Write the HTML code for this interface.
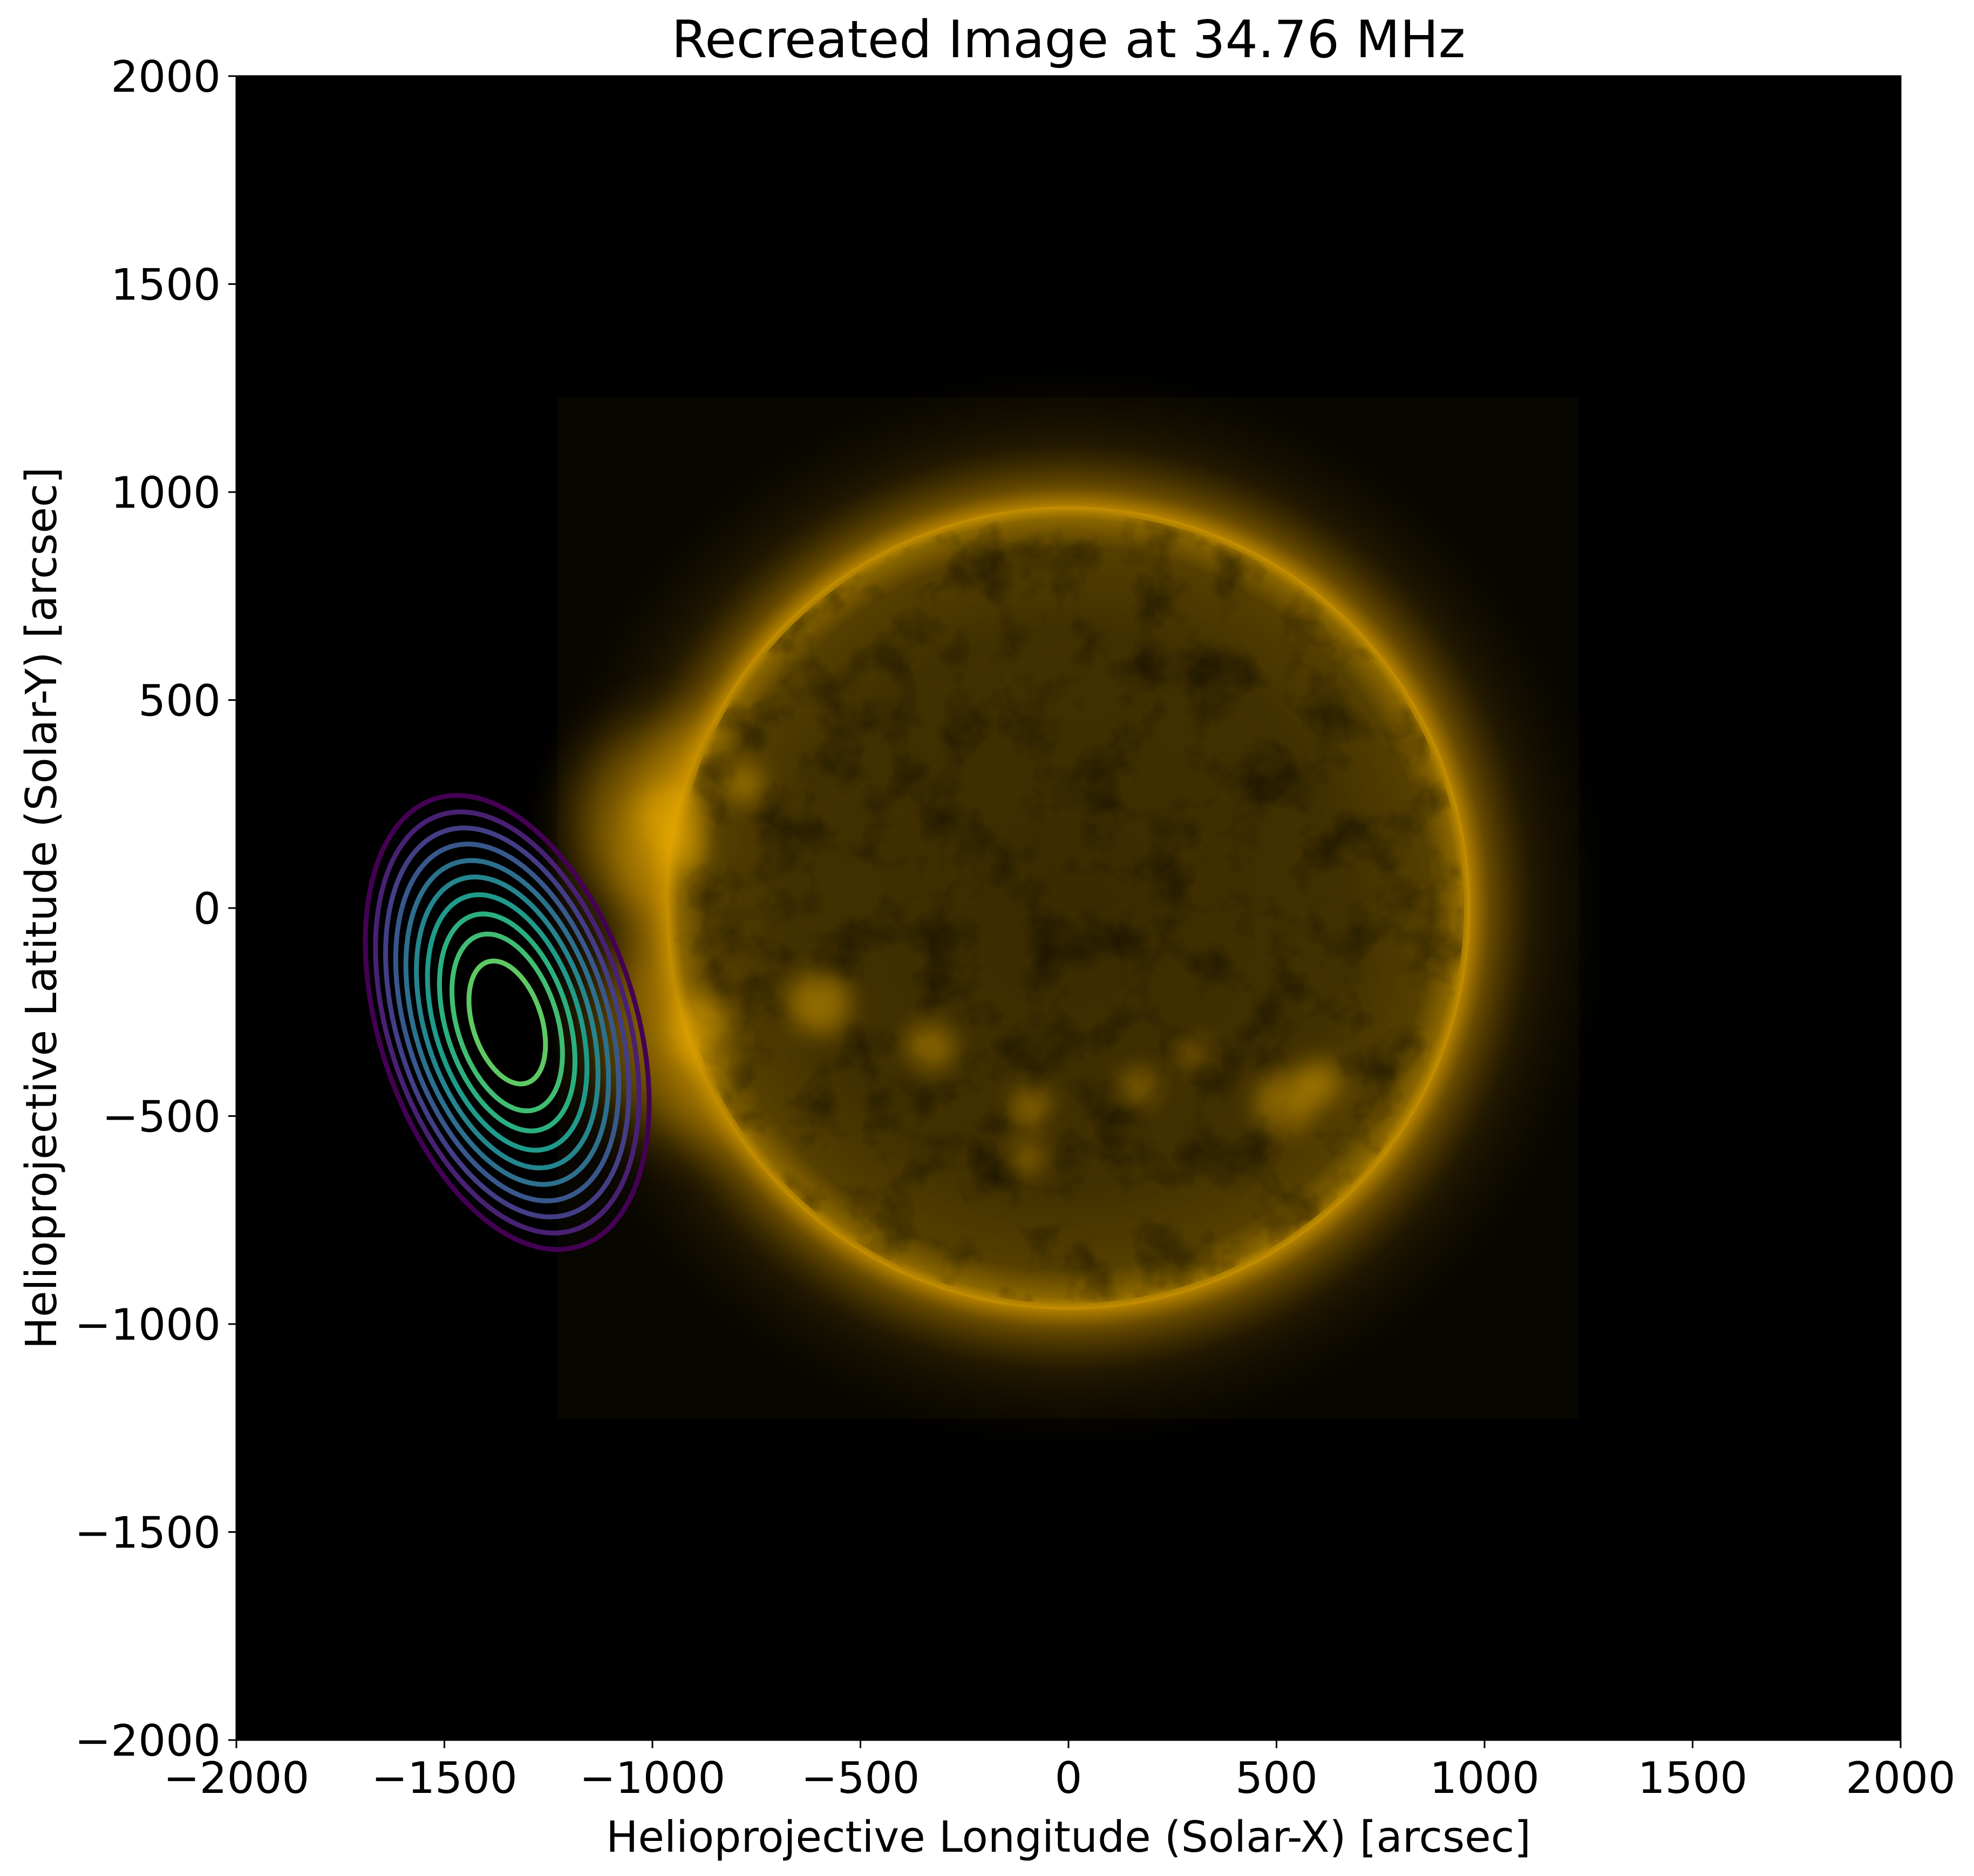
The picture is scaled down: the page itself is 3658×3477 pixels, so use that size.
<!DOCTYPE html>
<html><head><meta charset="utf-8"><style>
html,body{margin:0;padding:0;background:#fff;}
svg{display:block;font-family:"DejaVu Sans","Liberation Sans",sans-serif;}
</style></head><body>
<svg id="fig" width="3658" height="3477" viewBox="0 0 3658 3477" xmlns="http://www.w3.org/2000/svg">
<defs>
<clipPath id="plotClip"><rect x="438" y="141" width="3084" height="3084"/></clipPath>
<clipPath id="diskClip"><circle cx="1980" cy="1683" r="736"/></clipPath>
<radialGradient id="diskGrad" cx="0.5" cy="0.5" r="0.5">
<stop offset="0" stop-color="#3a2b00"/>
<stop offset="0.7" stop-color="#423100"/>
<stop offset="0.9" stop-color="#553f00"/>
<stop offset="0.97" stop-color="#8a6600"/>
<stop offset="1" stop-color="#c69000"/>
</radialGradient>
<radialGradient id="coronaGrad" cx="0.5" cy="0.5" r="0.5">
<stop offset="0.72" stop-color="#c89000" stop-opacity="0.95"/>
<stop offset="0.76" stop-color="#a87800" stop-opacity="0.6"/>
<stop offset="0.84" stop-color="#6a4c00" stop-opacity="0.25"/>
<stop offset="0.95" stop-color="#2a1e00" stop-opacity="0.08"/>
<stop offset="1" stop-color="#000" stop-opacity="0"/>
</radialGradient>
<filter id="blurBig" x="-50%" y="-50%" width="200%" height="200%"><feGaussianBlur stdDeviation="50"/></filter>
<filter id="blurSmall" x="-50%" y="-50%" width="200%" height="200%"><feGaussianBlur stdDeviation="22"/></filter>
<filter id="tex" x="0" y="0" width="100%" height="100%" filterUnits="userSpaceOnUse">
<feTurbulence type="fractalNoise" baseFrequency="0.01" numOctaves="4" seed="7"/>
<feColorMatrix type="matrix" values="0 0 0 0 0  0 0 0 0 0  0 0 0 0 0  0 0 0 -2.4 1.3"/>
</filter>
</defs>
<text x="1980" y="106" font-size="95" text-anchor="middle">Recreated Image at 34.76 MHz</text>
<g id="plot" clip-path="url(#plotClip)">
<rect x="438" y="141" width="3084" height="3084" fill="#000"/>
<g id="sunLayer"></g>
<g id="contourLayer"></g>
</g>
<g id="axes"></g>
<text x="1980" y="3432" font-size="79" text-anchor="middle">Helioprojective Longitude (Solar-X) [arcsec]</text>
<text transform="translate(104,1683) rotate(-90)" font-size="79" text-anchor="middle">Helioprojective Latitude (Solar-Y) [arcsec]</text>
</svg>
<script>
const xTicks = [-2000,-1500,-1000,-500,0,500,1000,1500,2000];
const yTicks = [-2000,-1500,-1000,-500,0,500,1000,1500,2000];
const xTickLabels = ["\u22122000","\u22121500","\u22121000","\u2212500","0","500","1000","1500","2000"];
const yTickLabels = ["\u22122000","\u22121500","\u22121000","\u2212500","0","500","1000","1500","2000"];
const sunRadius = 965;
const imageHalfWidth = 1228;
const contourCenter = [-1349, -275];
const contourAngle = 18;
const ringMajor = [565,524,484,444,403,362,318,270,220,153];
const ringMinor = [308,286,264,242,220,197,173,147,120,83];
const ringColors = ["#440154","#482173","#433e85","#38588c","#2d708e","#25858e","#1e9b8a","#2ab07f","#40bd72","#5ec962"];
const activeX = [-960,-930,-880,-600,-330,-90,170,520,600,-780,-100,300];
const activeY = [220,140,-300,-230,-330,-480,-430,-470,-420,300,-600,-350];
const activeR = [150,120,170,150,110,90,80,140,110,90,70,70];

const X0=438, Y0=141, W=3084, H=3084, XMIN=-2000, XMAX=2000, YMIN=-2000, YMAX=2000;
function sx(v){return X0+(v-XMIN)/(XMAX-XMIN)*W;}
function sy(v){return Y0+(YMAX-v)/(YMAX-YMIN)*H;}
function sl(v){return v/(XMAX-XMIN)*W;}
const NS="http://www.w3.org/2000/svg";
function mk(tag,parent,attrs){const e=document.createElementNS(NS,tag);for(const k in attrs)e.setAttribute(k,attrs[k]);parent.appendChild(e);return e;}

const dc=document.querySelector('#diskClip circle');
dc.setAttribute('cx',sx(0));dc.setAttribute('cy',sy(0));dc.setAttribute('r',sl(sunRadius*0.985));

const sun=document.getElementById('sunLayer');
let e;
e=mk('rect',sun,{x:sx(-imageHalfWidth),y:sy(imageHalfWidth),width:sl(2*imageHalfWidth),height:sl(2*imageHalfWidth),fill:"#080600"});


e=mk('circle',sun,{cx:sx(0),cy:sy(0),r:sl(sunRadius*1.38),fill:"url(#coronaGrad)"});


for(let i=0;i<activeX.length;i++){
  e=mk('circle',sun,{cx:sx(activeX[i]),cy:sy(activeY[i]),r:sl(activeR[i]*1.5),fill:"#d89c00",opacity:0.45,filter:"url(#blurBig)"});
  
  
}
e=mk('circle',sun,{cx:sx(0),cy:sy(0),r:sl(sunRadius),fill:"url(#diskGrad)"});


const tg=mk('g',sun,{"clip-path":"url(#diskClip)"});
e=mk('rect',tg,{x:sx(-sunRadius),y:sy(sunRadius),width:sl(2*sunRadius),height:sl(2*sunRadius),fill:"#000",filter:"url(#tex)",opacity:0.45});


for(let i=0;i<activeX.length;i++){
  e=mk('circle',sun,{cx:sx(activeX[i]),cy:sy(activeY[i]),r:sl(activeR[i]*0.5),fill:"#f0b000",opacity:0.45,filter:"url(#blurSmall)"});
  
  
}

const cl=document.getElementById('contourLayer');
for(let i=0;i<ringMajor.length;i++){
  e=mk('ellipse',cl,{cx:sx(contourCenter[0]),cy:sy(contourCenter[1]),rx:sl(ringMinor[i]),ry:sl(ringMajor[i]),fill:"none",stroke:ringColors[i],"stroke-width":9,transform:`rotate(${-contourAngle} ${sx(contourCenter[0])} ${sy(contourCenter[1])})`});
  
  
}

const ax=document.getElementById('axes');
e=mk('rect',ax,{x:X0,y:Y0,width:W,height:H,fill:"none",stroke:"#000","stroke-width":3});


xTicks.forEach((v,i)=>{
  e=mk('line',ax,{x1:sx(v),x2:sx(v),y1:Y0+H,y2:Y0+H+15,stroke:"#000","stroke-width":3});
  
  
  e=mk('text',ax,{x:sx(v),y:Y0+H+98,"font-size":80,"text-anchor":"middle"});
  e.textContent=xTickLabels[i];
  
  
});
yTicks.forEach((v,i)=>{
  e=mk('line',ax,{x1:X0-15,x2:X0,y1:sy(v),y2:sy(v),stroke:"#000","stroke-width":3});
  
  
  e=mk('text',ax,{x:X0-29,y:sy(v)+29,"font-size":80,"text-anchor":"end"});
  e.textContent=yTickLabels[i];
  
  
});
</script>
</body></html>
